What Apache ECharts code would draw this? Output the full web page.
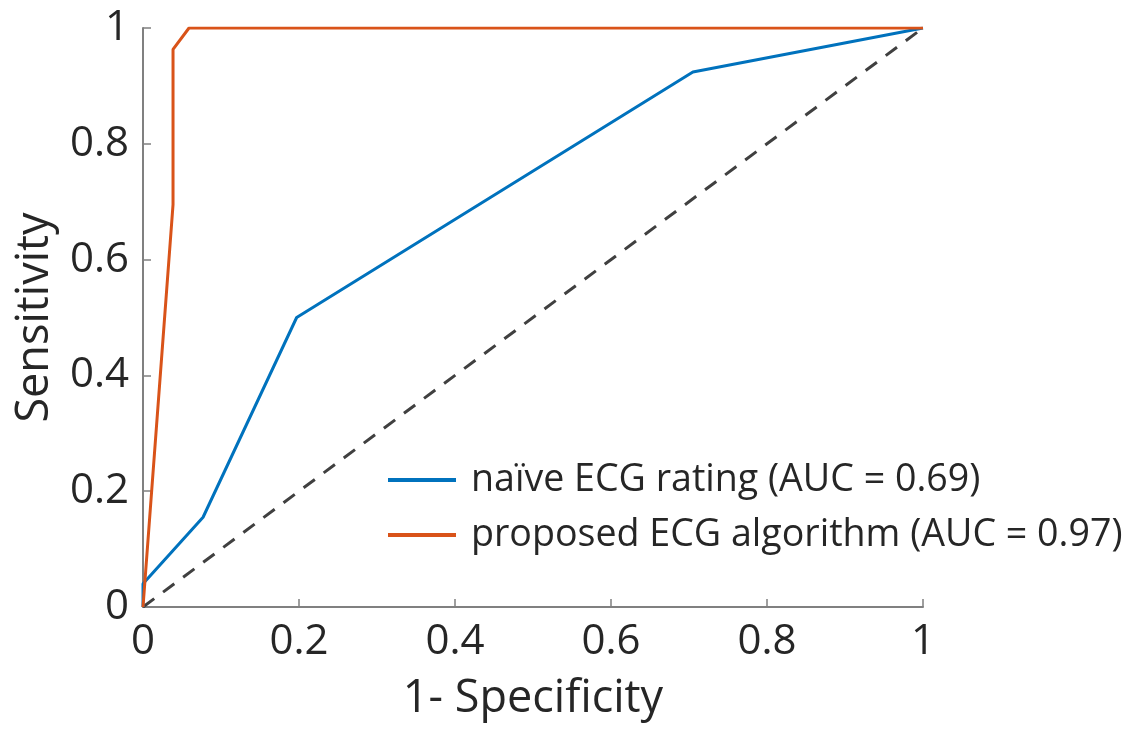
<!DOCTYPE html>
<html>
<head>
<meta charset="utf-8">
<script src="https://cdn.jsdelivr.net/npm/echarts@6/dist/echarts.min.js"></script>
<style>html,body{margin:0;padding:0;background:#fff}#c{width:1133px;height:731px}</style>
</head>
<body>
<div id="c"></div>
<script>
const xTicks = [0, 0.2, 0.4, 0.6, 0.8, 1];
const yTicks = [0, 0.2, 0.4, 0.6, 0.8, 1];
const naiveName = 'naïve ECG rating (AUC = 0.69)';
const naiveX = [0, 0, 0.077, 0.197, 0.705, 1];
const naiveY = [0, 0.04, 0.155, 0.5, 0.924, 1];
const propName = 'proposed ECG algorithm (AUC = 0.97)';
const propX = [0, 0.0385, 0.0385, 0.059, 1];
const propY = [0, 0.695, 0.963, 1, 1];
const diagX = [0, 1];
const diagY = [0, 1];

const zip = (a, b) => a.map((v, i) => [v, b[i]]);
const FONT = 'Open Sans';
const fmt = v => (v === 0 || v === 1) ? String(v) : String(+v.toFixed(1));

const chart = echarts.init(document.getElementById('c'));
chart.setOption({
  animation: false,
  backgroundColor: '#fff',
  grid: { left: 143, right: 210, top: 28, bottom: 124 },
  xAxis: {
    type: 'value', min: 0, max: 1, interval: 0.2,
    name: '1- Specificity', nameLocation: 'middle', nameGap: 70,
    nameTextStyle: { fontFamily: FONT, fontSize: 45, color: '#262626' },
    axisLine: { show: true, lineStyle: { color: '#808080', width: 2 } },
    axisTick: { show: true, inside: true, length: 8, lineStyle: { color: '#808080', width: 1.5 } },
    axisLabel: { fontFamily: FONT, fontSize: 42, color: '#262626', margin: 14, formatter: fmt },
    splitLine: { show: false }
  },
  yAxis: {
    type: 'value', min: 0, max: 1, interval: 0.2,
    name: 'Sensitivity', nameLocation: 'middle', nameGap: 85,
    nameTextStyle: { fontFamily: FONT, fontSize: 45, color: '#262626' },
    axisLine: { show: true, lineStyle: { color: '#808080', width: 2 } },
    axisTick: { show: true, inside: true, length: 8, lineStyle: { color: '#808080', width: 1.5 } },
    axisLabel: { fontFamily: FONT, fontSize: 42, color: '#262626', margin: 14, formatter: fmt },
    splitLine: { show: false }
  },
  legend: {
    data: [naiveName, propName],
    orient: 'vertical', left: 383, top: 455,
    itemWidth: 68, itemHeight: 4, itemGap: 15,
    icon: 'rect',
    textStyle: { fontFamily: FONT, fontSize: 37.6, lineHeight: 40, color: '#262626', padding: [0, 0, 0, 10] }
  },
  series: [
    {
      name: 'diag', type: 'line', data: zip(diagX, diagY), symbol: 'none',
      lineStyle: { color: '#404040', width: 3, type: [14, 11] }, silent: true
    },
    {
      name: naiveName, type: 'line', data: zip(naiveX, naiveY), symbol: 'none',
      itemStyle: { color: '#0072BD' }, lineStyle: { color: '#0072BD', width: 3 }
    },
    {
      name: propName, type: 'line', data: zip(propX, propY), symbol: 'none',
      itemStyle: { color: '#D95319' }, lineStyle: { color: '#D95319', width: 3 }
    }
  ]
});
</script>
</body>
</html>
